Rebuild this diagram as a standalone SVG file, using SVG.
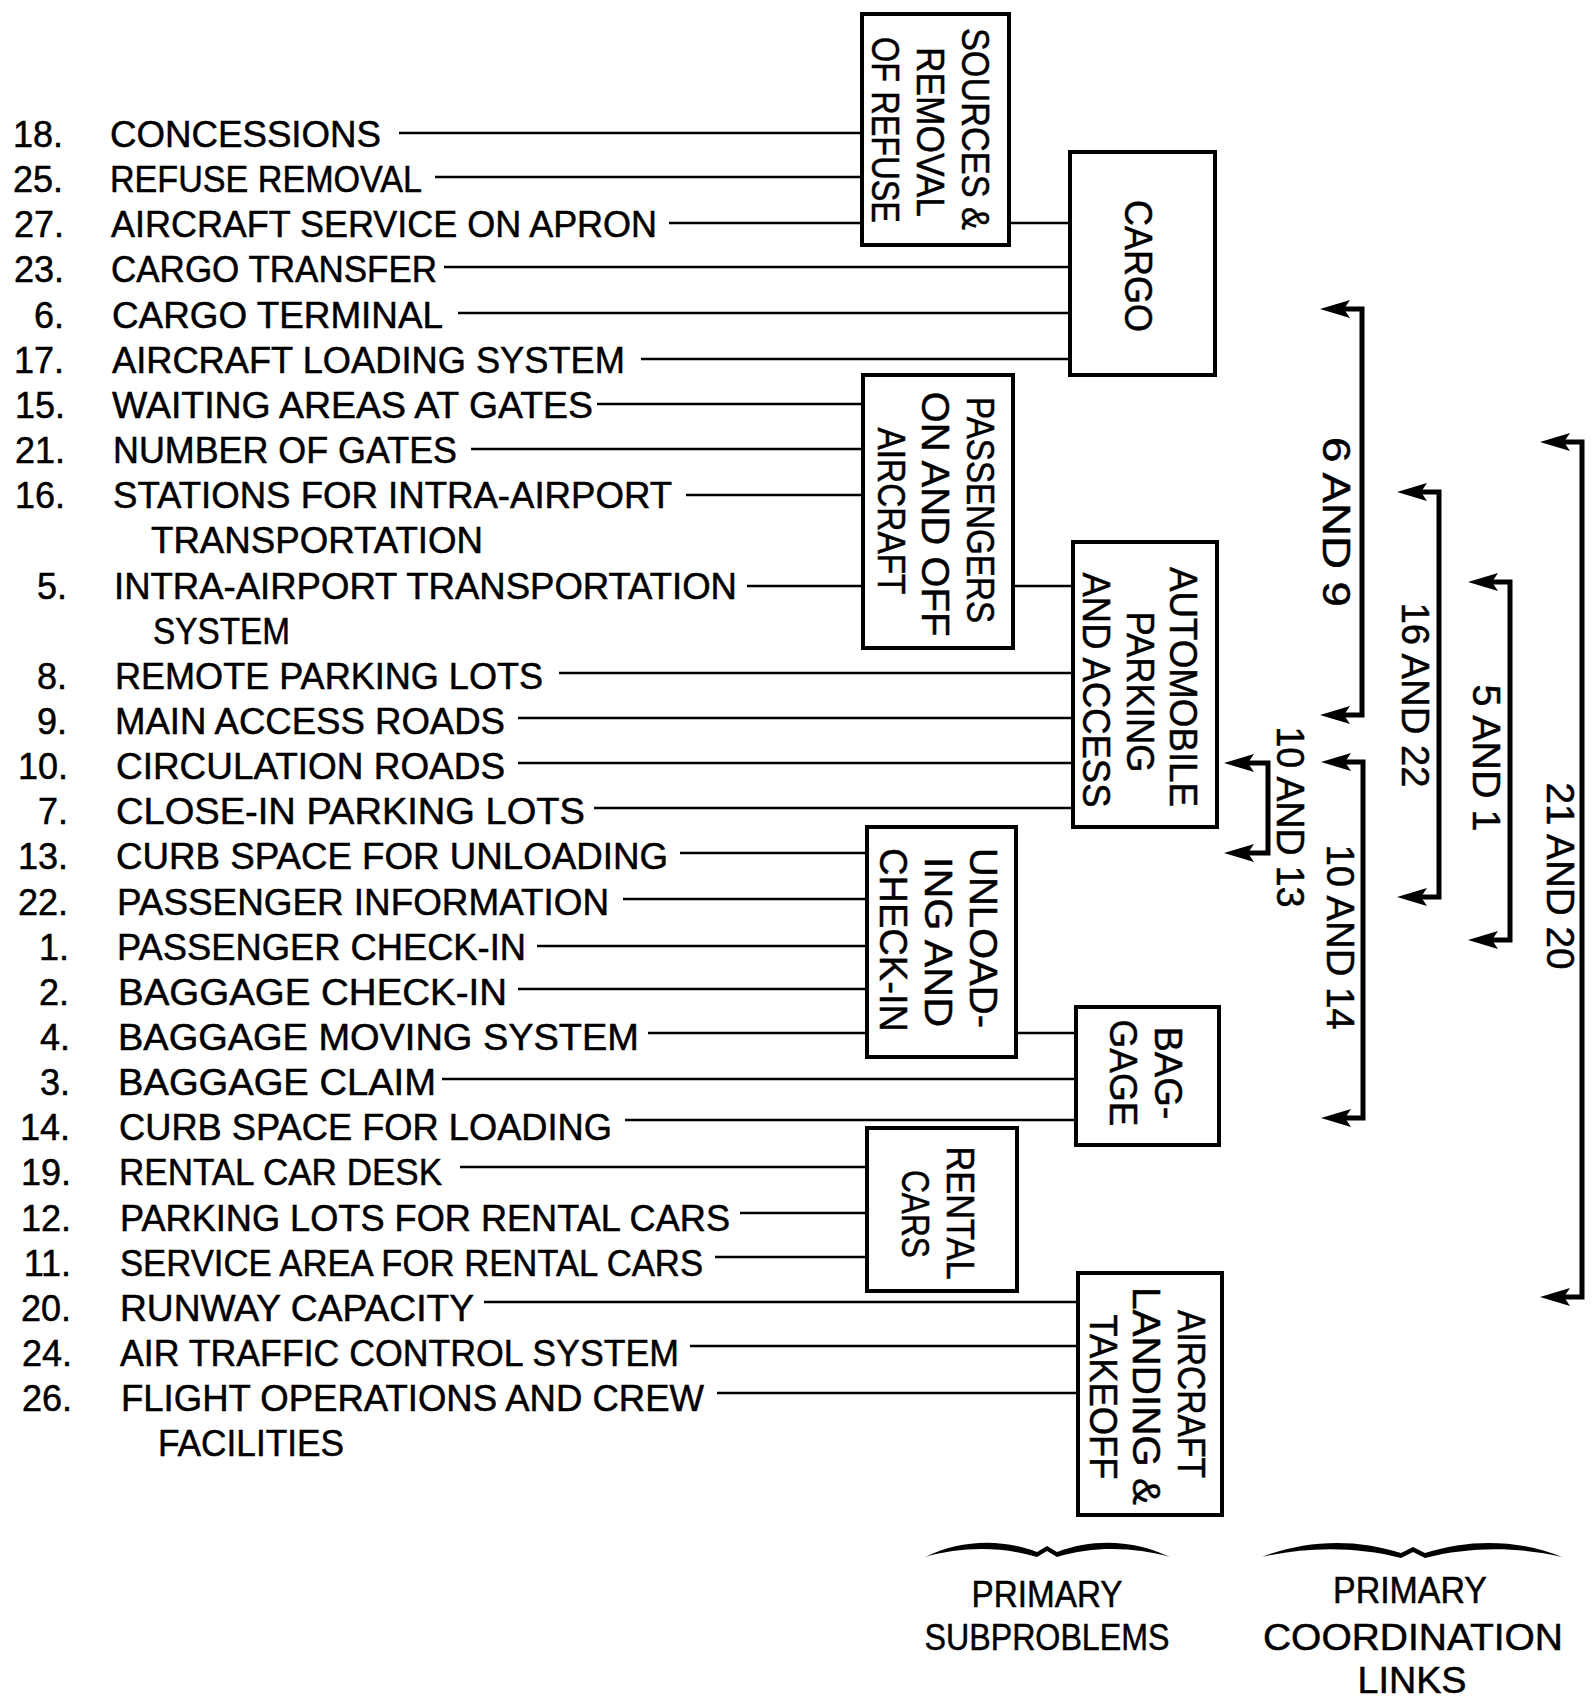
<svg xmlns="http://www.w3.org/2000/svg" width="1592" height="1699" viewBox="0 0 1592 1699">
<defs>
<style>
text{font-family:"Liberation Sans",Arial,sans-serif;fill:#000;stroke:#000;stroke-width:0.5}
.item{font-size:36px}
.num{font-size:36px;text-anchor:end}
.bt{font-size:39px;text-anchor:middle}
.lbl{font-size:38px;text-anchor:middle}
.cap{font-size:36px;text-anchor:middle}
.box{fill:#fff;stroke:#000;stroke-width:4}
.conn line{stroke:#000;stroke-width:2.6}
.br{fill:none;stroke:#000;stroke-width:5;marker-start:url(#ah);marker-end:url(#ah)}
</style>
<marker id="ah" viewBox="0 0 30 20" refX="8" refY="10" markerWidth="30" markerHeight="20" markerUnits="userSpaceOnUse" orient="auto-start-reverse">
<polygon points="0,1 30,10 0,19 6,10" fill="#000"/>
</marker>
</defs>
<rect width="1592" height="1699" fill="#fff"/>

<g id="list">
<text class="num" x="63" y="147">18.</text><text class="item" x="110" y="147" textLength="271" lengthAdjust="spacingAndGlyphs">CONCESSIONS</text>
<text class="num" x="63" y="192">25.</text><text class="item" x="110" y="192" textLength="312" lengthAdjust="spacingAndGlyphs">REFUSE REMOVAL</text>
<text class="num" x="64" y="237">27.</text><text class="item" x="111" y="237" textLength="546" lengthAdjust="spacingAndGlyphs">AIRCRAFT SERVICE ON APRON</text>
<text class="num" x="64" y="282">23.</text><text class="item" x="111" y="282" textLength="326" lengthAdjust="spacingAndGlyphs">CARGO TRANSFER</text>
<text class="num" x="64" y="328">6.</text><text class="item" x="112" y="328" textLength="331" lengthAdjust="spacingAndGlyphs">CARGO TERMINAL</text>
<text class="num" x="64" y="373">17.</text><text class="item" x="112" y="373" textLength="513" lengthAdjust="spacingAndGlyphs">AIRCRAFT LOADING SYSTEM</text>
<text class="num" x="65" y="418">15.</text><text class="item" x="112" y="418" textLength="481" lengthAdjust="spacingAndGlyphs">WAITING AREAS AT GATES</text>
<text class="num" x="65" y="463">21.</text><text class="item" x="113" y="463" textLength="344" lengthAdjust="spacingAndGlyphs">NUMBER OF GATES</text>
<text class="num" x="65" y="508">16.</text><text class="item" x="113" y="508" textLength="559" lengthAdjust="spacingAndGlyphs">STATIONS FOR INTRA-AIRPORT</text>
<text class="item" x="151" y="553" textLength="332" lengthAdjust="spacingAndGlyphs">TRANSPORTATION</text>
<text class="num" x="67" y="599">5.</text><text class="item" x="114" y="599" textLength="623" lengthAdjust="spacingAndGlyphs">INTRA-AIRPORT TRANSPORTATION</text>
<text class="item" x="153" y="644" textLength="137" lengthAdjust="spacingAndGlyphs">SYSTEM</text>
<text class="num" x="67" y="689">8.</text><text class="item" x="115" y="689" textLength="428" lengthAdjust="spacingAndGlyphs">REMOTE PARKING LOTS</text>
<text class="num" x="67" y="734">9.</text><text class="item" x="115" y="734" textLength="390" lengthAdjust="spacingAndGlyphs">MAIN ACCESS ROADS</text>
<text class="num" x="68" y="779">10.</text><text class="item" x="116" y="779" textLength="389" lengthAdjust="spacingAndGlyphs">CIRCULATION ROADS</text>
<text class="num" x="68" y="824">7.</text><text class="item" x="116" y="824" textLength="469" lengthAdjust="spacingAndGlyphs">CLOSE-IN PARKING LOTS</text>
<text class="num" x="68" y="869">13.</text><text class="item" x="116" y="869" textLength="552" lengthAdjust="spacingAndGlyphs">CURB SPACE FOR UNLOADING</text>
<text class="num" x="68" y="915">22.</text><text class="item" x="117" y="915" textLength="492" lengthAdjust="spacingAndGlyphs">PASSENGER INFORMATION</text>
<text class="num" x="69" y="960">1.</text><text class="item" x="117" y="960" textLength="409" lengthAdjust="spacingAndGlyphs">PASSENGER CHECK-IN</text>
<text class="num" x="69" y="1005">2.</text><text class="item" x="118" y="1005" textLength="389" lengthAdjust="spacingAndGlyphs">BAGGAGE CHECK-IN</text>
<text class="num" x="70" y="1050">4.</text><text class="item" x="118" y="1050" textLength="521" lengthAdjust="spacingAndGlyphs">BAGGAGE MOVING SYSTEM</text>
<text class="num" x="70" y="1095">3.</text><text class="item" x="118" y="1095" textLength="318" lengthAdjust="spacingAndGlyphs">BAGGAGE CLAIM</text>
<text class="num" x="70" y="1140">14.</text><text class="item" x="119" y="1140" textLength="493" lengthAdjust="spacingAndGlyphs">CURB SPACE FOR LOADING</text>
<text class="num" x="71" y="1185">19.</text><text class="item" x="119" y="1185" textLength="323" lengthAdjust="spacingAndGlyphs">RENTAL CAR DESK</text>
<text class="num" x="71" y="1231">12.</text><text class="item" x="120" y="1231" textLength="610" lengthAdjust="spacingAndGlyphs">PARKING LOTS FOR RENTAL CARS</text>
<text class="num" x="71" y="1276">11.</text><text class="item" x="120" y="1276" textLength="583" lengthAdjust="spacingAndGlyphs">SERVICE AREA FOR RENTAL CARS</text>
<text class="num" x="71" y="1321">20.</text><text class="item" x="120" y="1321" textLength="354" lengthAdjust="spacingAndGlyphs">RUNWAY CAPACITY</text>
<text class="num" x="72" y="1366">24.</text><text class="item" x="120" y="1366" textLength="559" lengthAdjust="spacingAndGlyphs">AIR TRAFFIC CONTROL SYSTEM</text>
<text class="num" x="72" y="1411">26.</text><text class="item" x="121" y="1411" textLength="583" lengthAdjust="spacingAndGlyphs">FLIGHT OPERATIONS AND CREW</text>
<text class="item" x="158" y="1456" textLength="186" lengthAdjust="spacingAndGlyphs">FACILITIES</text>
</g>

<g id="connectors" class="conn">
<line x1="399" y1="133" x2="862" y2="133"/>
<line x1="435" y1="177" x2="862" y2="177"/>
<line x1="669" y1="223" x2="862" y2="223"/>
<line x1="1009" y1="223" x2="1070" y2="223"/>
<line x1="444" y1="267" x2="1070" y2="267"/>
<line x1="458" y1="313" x2="1070" y2="313"/>
<line x1="641" y1="359" x2="1070" y2="359"/>
<line x1="597" y1="404" x2="863" y2="404"/>
<line x1="471" y1="449" x2="863" y2="449"/>
<line x1="686" y1="495" x2="863" y2="495"/>
<line x1="747" y1="586" x2="863" y2="586"/>
<line x1="1013" y1="586" x2="1073" y2="586"/>
<line x1="559" y1="673" x2="1073" y2="673"/>
<line x1="518" y1="718" x2="1073" y2="718"/>
<line x1="518" y1="763" x2="1073" y2="763"/>
<line x1="594" y1="808" x2="1073" y2="808"/>
<line x1="680" y1="853" x2="867" y2="853"/>
<line x1="623" y1="899" x2="867" y2="899"/>
<line x1="537" y1="946" x2="867" y2="946"/>
<line x1="518" y1="989" x2="867" y2="989"/>
<line x1="648" y1="1033" x2="867" y2="1033"/>
<line x1="1016" y1="1033" x2="1076" y2="1033"/>
<line x1="442" y1="1079" x2="1076" y2="1079"/>
<line x1="625" y1="1120" x2="1076" y2="1120"/>
<line x1="460" y1="1167" x2="867" y2="1167"/>
<line x1="740" y1="1213" x2="867" y2="1213"/>
<line x1="715" y1="1257" x2="867" y2="1257"/>
<line x1="484" y1="1302" x2="1078" y2="1302"/>
<line x1="690" y1="1346" x2="1078" y2="1346"/>
<line x1="717" y1="1393" x2="1078" y2="1393"/>
</g>

<g id="n-sources">
<rect class="box" x="862" y="14" width="147" height="231"/>
<text class="bt" transform="translate(962,129) rotate(90)" textLength="202" lengthAdjust="spacingAndGlyphs">SOURCES &amp;</text>
<text class="bt" transform="translate(917,132) rotate(90)" textLength="170" lengthAdjust="spacingAndGlyphs">REMOVAL</text>
<text class="bt" transform="translate(872,130) rotate(90)" textLength="186" lengthAdjust="spacingAndGlyphs">OF REFUSE</text>
</g>
<g id="n-cargo">
<rect class="box" x="1070" y="152" width="145" height="223"/>
<text class="bt" transform="translate(1125,266) rotate(90)" textLength="132" lengthAdjust="spacingAndGlyphs">CARGO</text>
</g>
<g id="n-passengers">
<rect class="box" x="863" y="375" width="150" height="273"/>
<text class="bt" transform="translate(967,510) rotate(90)" textLength="226" lengthAdjust="spacingAndGlyphs">PASSENGERS</text>
<text class="bt" transform="translate(922,514) rotate(90)" textLength="245" lengthAdjust="spacingAndGlyphs">ON AND OFF</text>
<text class="bt" transform="translate(878,511) rotate(90)" textLength="167" lengthAdjust="spacingAndGlyphs">AIRCRAFT</text>
</g>
<g id="n-automobile">
<rect class="box" x="1073" y="542" width="144" height="285"/>
<text class="bt" transform="translate(1170,687) rotate(90)" textLength="240" lengthAdjust="spacingAndGlyphs">AUTOMOBILE</text>
<text class="bt" transform="translate(1127,692) rotate(90)" textLength="161" lengthAdjust="spacingAndGlyphs">PARKING</text>
<text class="bt" transform="translate(1083,690) rotate(90)" textLength="235" lengthAdjust="spacingAndGlyphs">AND ACCESS</text>
</g>
<g id="n-unloading">
<rect class="box" x="867" y="827" width="149" height="230"/>
<text class="bt" transform="translate(970,938) rotate(90)" textLength="180" lengthAdjust="spacingAndGlyphs">UNLOAD-</text>
<text class="bt" transform="translate(925,942) rotate(90)" textLength="170" lengthAdjust="spacingAndGlyphs">ING AND</text>
<text class="bt" transform="translate(880,940) rotate(90)" textLength="184" lengthAdjust="spacingAndGlyphs">CHECK-IN</text>
</g>
<g id="n-baggage">
<rect class="box" x="1076" y="1007" width="143" height="138"/>
<text class="bt" transform="translate(1155,1073) rotate(90)" textLength="93" lengthAdjust="spacingAndGlyphs">BAG-</text>
<text class="bt" transform="translate(1110,1073) rotate(90)" textLength="107" lengthAdjust="spacingAndGlyphs">GAGE</text>
</g>
<g id="n-rental">
<rect class="box" x="867" y="1128" width="150" height="163"/>
<text class="bt" transform="translate(947,1213) rotate(90)" textLength="133" lengthAdjust="spacingAndGlyphs">RENTAL</text>
<text class="bt" transform="translate(902,1214) rotate(90)" textLength="88" lengthAdjust="spacingAndGlyphs">CARS</text>
</g>
<g id="n-aircraft">
<rect class="box" x="1078" y="1273" width="144" height="242"/>
<text class="bt" transform="translate(1178,1394) rotate(90)" textLength="168" lengthAdjust="spacingAndGlyphs">AIRCRAFT</text>
<text class="bt" transform="translate(1133,1396) rotate(90)" textLength="218" lengthAdjust="spacingAndGlyphs">LANDING &amp;</text>
<text class="bt" transform="translate(1090,1397) rotate(90)" textLength="165" lengthAdjust="spacingAndGlyphs">TAKEOFF</text>
</g>

<g id="links">
<path class="br" d="M1342,309 H1362 V715 H1342"/>
<path class="br" d="M1419,492 H1439 V897 H1419"/>
<path class="br" d="M1490,582 H1510 V940 H1490"/>
<path class="br" d="M1562,442 H1582 V1297 H1562"/>
<path class="br" d="M1246,763 H1268 V853 H1246"/>
<path class="br" d="M1343,762 H1363 V1118 H1343"/>
<text class="lbl" transform="translate(1323,522) rotate(90)" textLength="170" lengthAdjust="spacingAndGlyphs">6 AND 9</text>
<text class="lbl" transform="translate(1402,695) rotate(90)" textLength="185" lengthAdjust="spacingAndGlyphs">16 AND 22</text>
<text class="lbl" transform="translate(1473,758) rotate(90)" textLength="147" lengthAdjust="spacingAndGlyphs">5 AND 1</text>
<text class="lbl" transform="translate(1547,876) rotate(90)" textLength="187" lengthAdjust="spacingAndGlyphs">21 AND 20</text>
<text class="lbl" transform="translate(1277,817) rotate(90)" textLength="181" lengthAdjust="spacingAndGlyphs">10 AND 13</text>
<text class="lbl" transform="translate(1327,937) rotate(90)" textLength="185" lengthAdjust="spacingAndGlyphs">10 AND 14</text>
</g>

<g id="legend">
<path fill="#000" d="M925,1557 C960,1540 1000,1538 1037,1552 L1047,1546 L1057,1552 C1094,1538 1134,1540 1170,1557 C1134,1547 1094,1546 1057,1557 L1047,1551 L1037,1557 C1000,1546 960,1547 925,1557 Z"/>
<path fill="#000" d="M1262,1557 C1305,1540 1355,1538 1401,1553 L1413,1547 L1425,1553 C1471,1538 1521,1540 1562,1557 C1521,1547 1471,1546 1425,1558 L1413,1552 L1401,1558 C1355,1546 1305,1547 1262,1557 Z"/>
<text class="cap" x="1047" y="1607" textLength="151" lengthAdjust="spacingAndGlyphs">PRIMARY</text>
<text class="cap" x="1047" y="1650" textLength="245" lengthAdjust="spacingAndGlyphs">SUBPROBLEMS</text>
<text class="cap" x="1410" y="1603" textLength="154" lengthAdjust="spacingAndGlyphs">PRIMARY</text>
<text class="cap" x="1413" y="1650" textLength="300" lengthAdjust="spacingAndGlyphs">COORDINATION</text>
<text class="cap" x="1412" y="1693" textLength="109" lengthAdjust="spacingAndGlyphs">LINKS</text>
</g>
</svg>
